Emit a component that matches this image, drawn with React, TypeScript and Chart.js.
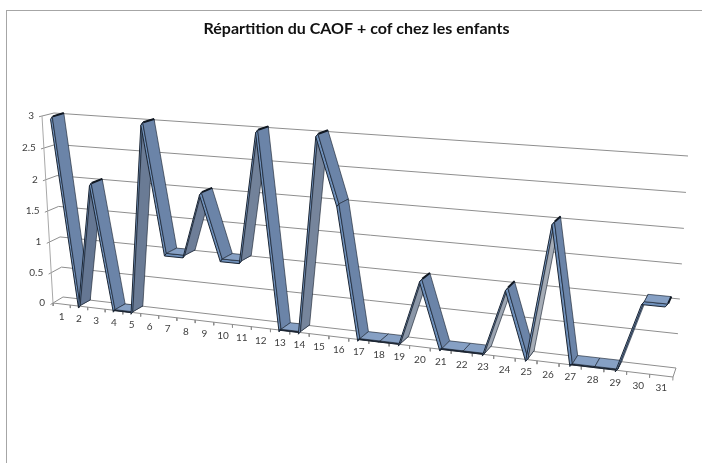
import React, { useEffect, useRef } from "react";
import { Chart, registerables } from "chart.js";

Chart.register(...registerables);

const titleText = "Répartition du CAOF + cof chez les enfants";
const categories = Array.from({ length: 31 }, (_, k) => k + 1);
const cafValues = [3, 0, 2, 0, 0, 3, 1, 1, 2, 1, 1, 3, 0, 0, 3, 2, 0, 0, 0, 1, 0, 0, 0, 1, 0, 2, 0, 0, 0, 1, 1];
const gridValues = [0, 0.5, 1, 1.5, 2, 2.5, 3];

// Perspective planes: [i=0.5 v=0], [i=31.5 v=0], [i=31.5 v=3], [i=0.5 v=3]
const WALL_FRONT = [[53, 303], [673, 377], [685, 160], [42, 116]];
const WALL_BACK = [[63, 297], [676, 368], [688, 156], [54, 113]];
const RIBBON_FRONT = [[54.5, 302.5], [676, 376], [688, 158], [43.5, 116]];
const RIBBON_BACK = [[64.5, 297], [679, 367], [691, 154], [55, 112.5]];

function homography(q: number[][]) {
  const [[x0, y0], [x1, y1], [x2, y2], [x3, y3]] = q;
  const sx = x0 - x1 + x2 - x3, sy = y0 - y1 + y2 - y3;
  const dx1 = x1 - x2, dx2 = x3 - x2, dy1 = y1 - y2, dy2 = y3 - y2;
  const den = dx1 * dy2 - dx2 * dy1;
  const g = (sx * dy2 - dx2 * sy) / den, h = (dx1 * sy - sx * dy1) / den;
  const a = x1 - x0 + g * x1, b = x3 - x0 + h * x3, d = y1 - y0 + g * y1, e = y3 - y0 + h * y3;
  return (s: number, t: number) => {
    const w = g * s + h * t + 1;
    return [(a * s + b * t + x0) / w, (d * s + e * t + y0) / w];
  };
}
const wallF = homography(WALL_FRONT);
const wallB = homography(WALL_BACK);
const ribF = homography(RIBBON_FRONT);
const ribB = homography(RIBBON_BACK);
function project(i: number, v: number, depth: number, ribbon = false) {
  const s = (i - 0.5) / 31, t = v / 3;
  const f = (ribbon ? ribF : wallF)(s, t), b = (ribbon ? ribB : wallB)(s, t);
  return [f[0] + (b[0] - f[0]) * depth, f[1] + (b[1] - f[1]) * depth];
}

const pt = (x: number, y: number, d: number) => ({ x, y, d });
const rp = (x: number, y: number, d: number) => ({ x, y, d, r: true });
const GRID = "#8e8e8e";
const EDGE = "#1c2634";

function mix(a: number[], b: number[], k: number) {
  const c = a.map((v, n) => Math.round(v + (b[n] - v) * k));
  return `rgb(${c[0]},${c[1]},${c[2]})`;
}
function faceColor(k: number) {
  const dv = cafValues[k + 1] - cafValues[k];
  if (dv < 0) return "#6b84a8";
  if (dv === 0) return "#86a0c4";
  if (k === 28) return "#8aa6cc";
  const f = k / 29;
  return mix([100, 118, 146], [182, 186, 192], f < 0.55 ? f * 0.5 : Math.min(1, (f - 0.3) * 1.5));
}

function buildDatasets() {
  const sets: any[] = [];
  const line = (data: any[], extra: any) => ({
    type: "line", data, pointRadius: 0, tension: 0, fill: false, clip: false, spanGaps: false,
    borderColor: GRID, borderWidth: 1, ...extra,
  });
  gridValues.forEach((v) => {
    sets.push(line([pt(0.5, v, -0.25), pt(0.5, v, 1), pt(31.5, v, 1)], { order: 2000 }));
  });
  // left axis, floor outline and category ticks
  sets.push(line([pt(0.5, 0, 0), pt(0.5, 3, 0)], { order: 1999, borderColor: "#a8a8a8" }));
  sets.push(line([pt(0.5, 0, 0), pt(31.5, 0, 0), pt(31.5, 0, 1)], { order: 1999 }));
  const ticks: any[] = [];
  for (let k = 0; k <= categories.length; k++) {
    ticks.push(pt(k + 0.5, 0, 0), pt(k + 0.5, -0.05, 0), pt(k + 0.5, NaN, 0));
  }
  sets.push(line(ticks, { order: 1999 }));

  for (let k = 0; k < cafValues.length - 1; k++) {
    const a = categories[k], b = categories[k + 1], va = cafValues[k], vb = cafValues[k + 1];
    const o = 1000 - k * 4;
    const floorFlat = va === 0 && vb === 0;
    const off = floorFlat ? 0.018 : 0.045;
    sets.push(line(
      [rp(a, va, 0), rp(b, vb, 0), rp(b - 0.11, vb - off, 0), rp(a - 0.11, va - off, 0), rp(a, va, 0)],
      { order: o, polyFill: floorFlat ? "#141a24" : "#6f90ba", borderColor: EDGE, borderWidth: 1 },
    ));
    sets.push(line(
      [rp(a, va, 0), rp(b, vb, 0), rp(b, vb, 1), rp(a, va, 1), rp(a, va, 0)],
      { order: o - 1, polyFill: faceColor(k), borderColor: "rgba(28,38,52,0.8)", borderWidth: 0.8 },
    ));
  }
  // dark thick edge on the crest of every peak and at the end of the ribbon
  cafValues.forEach((v, k) => {
    const prev = cafValues[k - 1] ?? -1, next = cafValues[k + 1] ?? -1;
    if ((v > prev && v > next) || k === cafValues.length - 1) {
      const c = categories[k];
      sets.push(line([rp(c, v, 0.05), rp(c, v, 1)], { order: 1, borderColor: "#111822", borderWidth: 2 }));
    }
  });
  return sets;
}

const warpPlugin = {
  id: "warp",
  afterDatasetsUpdate(chart: any) {
    chart.data.datasets.forEach((ds: any, di: number) => {
      chart.getDatasetMeta(di).data.forEach((el: any, n: number) => {
        const r = ds.data[n];
        if (!Number.isFinite(r.y)) return;
        const [x, y] = project(r.x, r.y, r.d, !!r.r);
        el.x = x;
        el.y = y;
      });
    });
  },
  beforeDatasetDraw(chart: any, args: any) {
    const fillColor = chart.data.datasets[args.index].polyFill;
    if (!fillColor) return;
    const ctx = chart.ctx;
    ctx.save();
    ctx.beginPath();
    args.meta.data.forEach((el: any, n: number) => (n ? ctx.lineTo(el.x, el.y) : ctx.moveTo(el.x, el.y)));
    ctx.closePath();
    ctx.fillStyle = fillColor;
    ctx.fill();
    ctx.restore();
  },
  beforeDraw(chart: any) {
    const { x: xs, y: ys } = chart.scales;
    const xItems = xs.getLabelItems();
    const yItems = ys.getLabelItems();
    xItems.forEach((item: any) => {
      const [x, y] = project(Number(item.label), 0, 0);
      item.textOffset = 0;
      item.options.textAlign = "center";
      item.options.textBaseline = "middle";
      item.options.translation = [x, y + 12.5];
    });
    yItems.forEach((item: any) => {
      const [x, y] = project(0.5, Number(item.label), 0);
      item.textOffset = 0;
      item.options.textAlign = "right";
      item.options.textBaseline = "middle";
      item.options.translation = [x - 8, y];
    });
    // the labels sit on the warped axes, so they must not be clipped to the scale boxes
    xs.top = 0;
    xs.bottom = chart.height;
    ys.left = 0;
    ys.right = chart.width;
  },
};

export default function App() {
  const ref = useRef<HTMLCanvasElement>(null);
  useEffect(() => {
    const font = { family: "Lato", size: 10 };
    const chart = new Chart(ref.current!, {
      type: "line",
      data: { datasets: buildDatasets() },
      plugins: [warpPlugin],
      options: {
        animation: false,
        responsive: false,
        events: [],
        layout: { padding: { left: 11, top: 9 } },
        plugins: {
          legend: { display: false },
          tooltip: { enabled: false },
          title: {
            display: true,
            text: titleText,
            color: "#111111",
            font: { family: "Lato", size: 16, weight: "bold" },
            padding: { top: 10, bottom: 10 },
          },
        },
        scales: {
          x: {
            type: "linear",
            min: 0.5,
            max: 31.5,
            afterBuildTicks: (s: any) => {
              s.ticks = categories.map((value) => ({ value }));
            },
            grid: { display: false },
            border: { display: false },
            ticks: { autoSkip: false, maxRotation: 0, minRotation: 0, color: "#404040", font, callback: (v: any) => String(v) },
          },
          y: {
            type: "linear",
            min: 0,
            max: 3,
            afterBuildTicks: (s: any) => {
              s.ticks = gridValues.map((value) => ({ value }));
            },
            grid: { display: false },
            border: { display: false },
            ticks: { color: "#404040", font, callback: (v: any) => String(v) },
          },
        },
      },
    } as any);
    return () => chart.destroy();
  }, []);
  return (
    <div style={{ position: "absolute", left: 0, top: 0, width: 702, height: 463, background: "#fff", overflow: "hidden" }}>
      <div style={{ position: "absolute", left: 6, top: 10, width: 700, height: 460, borderLeft: "1px solid #a6a6a6", borderTop: "1px solid #a6a6a6" }} />
      <canvas ref={ref} width={702} height={463} style={{ position: "absolute", left: 0, top: 0, filter: "blur(0.35px)" }} />
    </div>
  );
}
